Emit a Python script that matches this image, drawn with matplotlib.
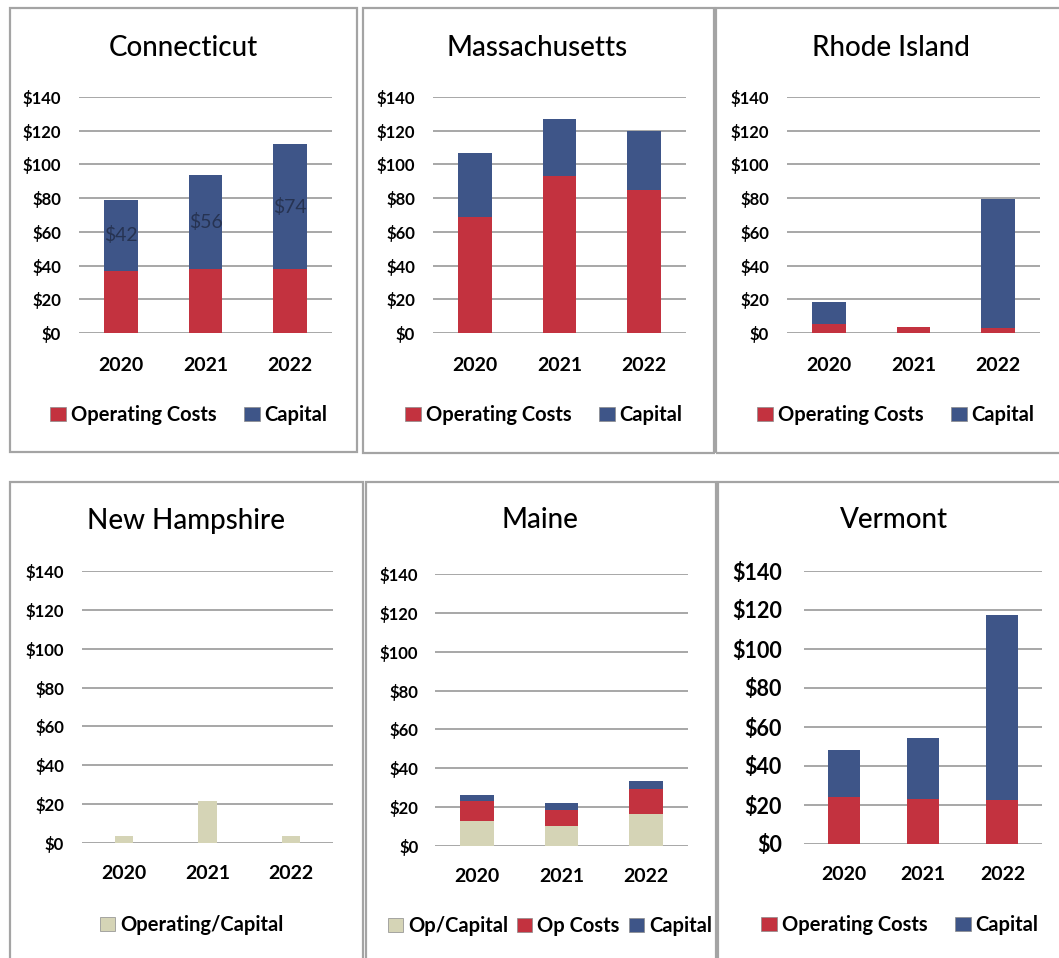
import matplotlib
matplotlib.use("Agg")
import matplotlib.pyplot as plt
from matplotlib.patches import Rectangle, Patch

plt.rcParams["font.family"] = ["Lato", "DejaVu Sans"]

W, H = 1059, 958

years = ["2020", "2021", "2022"]

# Spending by state, $ millions
ct_operating = [37, 38, 38]
ct_capital = [42, 56, 74]

ma_operating = [69, 93, 85]
ma_capital = [38, 34, 35]

ri_operating = [5.5, 3.5, 3]
ri_capital = [13, 0, 76.5]

nh_op_capital = [3.5, 21.5, 3.5]

me_op_capital = [13, 10.5, 16.5]
me_op_costs = [10, 8, 13]
me_capital = [3.5, 3.5, 4]

vt_operating = [24, 23, 22.5]
vt_capital = [24, 31.5, 95]

y_ticks = [0, 20, 40, 60, 80, 100, 120, 140]
y_tick_labels = ["$" + str(v) for v in y_ticks]

RED = "#c3323f"
BLUE = "#3e5588"
BEIGE = "#d5d4b6"
GRID = "#a0a0a0"
BORDER = "#a4a4a4"

fig = plt.figure(figsize=(W / 100, H / 100), dpi=100)
fig.patch.set_facecolor("white")


def frac_box(x0, y0, x1, y1):
    return [x0 / W, 1 - y1 / H, (x1 - x0) / W, (y1 - y0) / H]


def panel_border(x0, y0, x1, y1):
    l, b, w, h = frac_box(x0, y0, x1, y1)
    fig.add_artist(Rectangle((l, b), w, h, transform=fig.transFigure,
                             fill=False, edgecolor=BORDER, lw=1.6))


def make_axes(box, tick_size=12, ypad=13, xpad=17):
    ax = fig.add_axes(frac_box(*box))
    ax.set_xlim(-0.5, 2.5)
    ax.set_ylim(0, 140)
    ax.set_yticks(y_ticks)
    ax.set_yticklabels(y_tick_labels)
    ax.set_xticks(range(len(years)))
    ax.set_xticklabels(years)
    for s in ax.spines.values():
        s.set_visible(False)
    ax.tick_params(axis="both", length=0)
    ax.tick_params(axis="y", labelsize=tick_size, pad=ypad)
    ax.tick_params(axis="x", labelsize=14, pad=xpad)
    for lab in ax.get_yticklabels() + ax.get_xticklabels():
        lab.set_fontweight("bold")
    for v in y_ticks:
        ax.axhline(v, color=GRID, lw=1.3, zorder=0)
    ax.set_facecolor("none")
    return ax


def stacked(ax, series, colors, width=0.40):
    x = list(range(len(years)))
    bottom = [0] * len(years)
    for vals, col in zip(series, colors):
        ax.bar(x, vals, width, bottom=bottom, color=col, zorder=2, linewidth=0)
        bottom = [b + v for b, v in zip(bottom, vals)]


def title(cx, cy, text):
    fig.text(cx / W, 1 - cy / H, text, ha="center", va="center",
             fontsize=20, fontweight="medium")


def legend(cx, cy, labels, colors, spacing=1.4):
    handles = [Patch(facecolor=c, edgecolor="#8a8a8a", lw=0.5) for c in colors]
    fig.legend(handles, labels, loc="center", bbox_to_anchor=(cx / W, 1 - cy / H),
               ncol=len(labels), frameon=False, handlelength=0.75, handleheight=0.75,
               handletextpad=0.25, columnspacing=spacing,
               prop={"size": 14.5, "weight": "bold"})


# Panel frames
panel_border(10, 8, 357, 452)
panel_border(363, 8, 714, 453)
panel_border(716, 8, 1070, 453)
panel_border(10, 482, 363, 970)
panel_border(366, 482, 716, 970)
panel_border(718, 482, 1070, 970)

# Connecticut
ax = make_axes((79, 97, 332, 333))
stacked(ax, [ct_operating, ct_capital], [RED, BLUE])
for i, (op, cap) in enumerate(zip(ct_operating, ct_capital)):
    ax.text(i, op + cap / 2, "$" + str(cap), ha="center", va="center",
            fontsize=14, color="#1f2840", alpha=0.75, zorder=3)
title(183, 48, "Connecticut")
legend(189, 415, ["Operating Costs", "Capital"], [RED, BLUE])

# Massachusetts
ax = make_axes((433, 97, 686, 333))
stacked(ax, [ma_operating, ma_capital], [RED, BLUE])
title(537, 48, "Massachusetts")
legend(544, 415, ["Operating Costs", "Capital"], [RED, BLUE])

# Rhode Island
ax = make_axes((787, 97, 1040, 333))
stacked(ax, [ri_operating, ri_capital], [RED, BLUE])
title(891, 48, "Rhode Island")
legend(896, 415, ["Operating Costs", "Capital"], [RED, BLUE])

# New Hampshire
ax = make_axes((82, 571, 333, 843), xpad=16)
stacked(ax, [nh_op_capital], [BEIGE], width=0.22)
title(186, 521, "New Hampshire")
legend(192, 925, ["Operating/Capital"], [BEIGE])

# Maine
ax = make_axes((435, 574, 688, 846), ypad=12, xpad=16)
stacked(ax, [me_op_capital, me_op_costs, me_capital], [BEIGE, RED, BLUE])
title(540, 520, "Maine")
legend(550, 926, ["Op/Capital", "Op Costs", "Capital"], [BEIGE, RED, BLUE], spacing=0.45)

# Vermont
ax = make_axes((804, 571, 1042, 844), tick_size=15.5, ypad=16, xpad=16)
stacked(ax, [vt_operating, vt_capital], [RED, BLUE])
title(894, 520, "Vermont")
legend(900, 925, ["Operating Costs", "Capital"], [RED, BLUE])

fig.savefig("out.png", dpi=100, facecolor="white")
